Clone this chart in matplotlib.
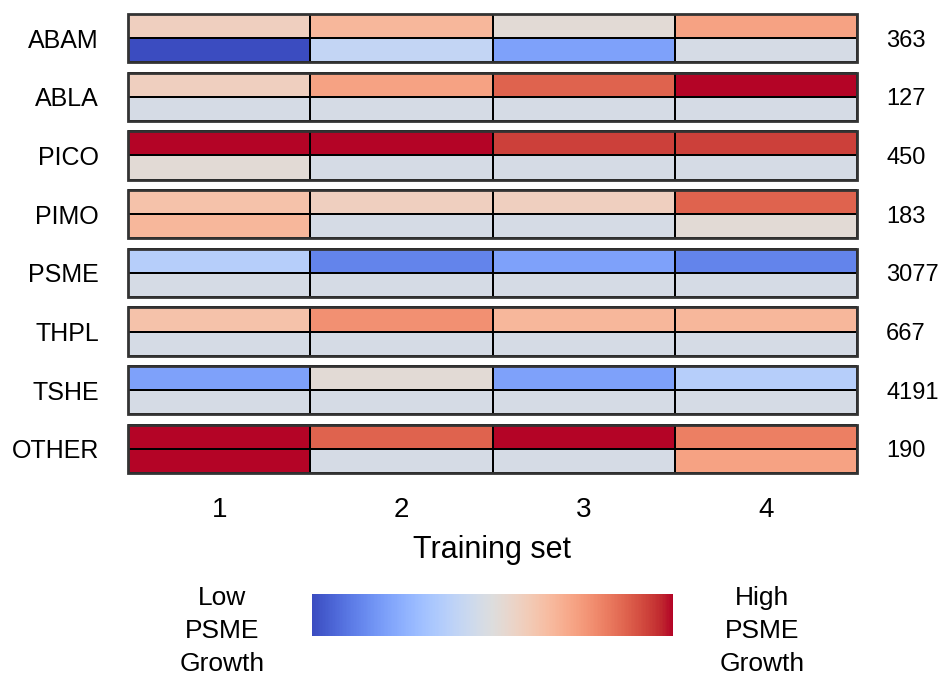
import numpy as np
import matplotlib
matplotlib.use("Agg")
import matplotlib.pyplot as plt
from matplotlib.patches import Rectangle
import matplotlib.colors as mcolors

plt.rcParams['font.family'] = ['Liberation Sans', 'DejaVu Sans']

species = ["ABAM", "ABLA", "PICO", "PIMO", "PSME", "THPL", "TSHE", "OTHER"]
counts = ["363", "127", "450", "183", "3077", "667", "4191", "190"]
training_sets = ["1", "2", "3", "4"]

# top sub-row values (0 = low PSME growth, 1 = high PSME growth)
top_vals = [
    [0.58, 0.67, 0.52, 0.73],
    [0.58, 0.73, 0.87, 1.00],
    [1.00, 1.00, 0.93, 0.93],
    [0.63, 0.58, 0.58, 0.87],
    [0.37, 0.13, 0.21, 0.13],
    [0.63, 0.77, 0.67, 0.67],
    [0.21, 0.52, 0.21, 0.37],
    [1.00, 0.87, 1.00, 0.81],
]
# bottom sub-row values
bottom_vals = [
    [0.00, 0.41, 0.21, 0.47],
    [0.47, 0.47, 0.47, 0.47],
    [0.52, 0.47, 0.47, 0.47],
    [0.67, 0.47, 0.47, 0.52],
    [0.47, 0.47, 0.47, 0.47],
    [0.47, 0.47, 0.47, 0.47],
    [0.47, 0.47, 0.47, 0.47],
    [1.00, 0.47, 0.47, 0.73],
]

W, H = 945, 677
fig = plt.figure(figsize=(W / 100, H / 100), dpi=100)

block_h = 0.82
n = len(species)
left, right, top, bottom = 128, 857, 14, 473
ax = fig.add_axes([left / W, 1 - bottom / H, (right - left) / W, (bottom - top) / H])
cmap = plt.get_cmap('coolwarm')
norm = mcolors.Normalize(0, 1)

xe = np.arange(len(training_sets) + 1)
for i in range(n):
    ye = np.array([i, i + block_h / 2, i + block_h])
    Z = np.array([top_vals[i], bottom_vals[i]])
    ax.pcolormesh(xe, ye, Z, cmap=cmap, norm=norm, edgecolors='black', linewidth=1.3)
    ax.add_patch(Rectangle((0, i), len(training_sets), block_h, fill=False,
                           edgecolor='#333333', linewidth=2.0, zorder=3, clip_on=False))

ax.set_xlim(0, len(training_sets))
ax.set_ylim(n - 1 + block_h, 0)
for s in ax.spines.values():
    s.set_visible(False)
ax.set_xticks(np.arange(len(training_sets)) + 0.5)
ax.set_xticklabels(training_sets, fontsize=20)
ax.set_yticks(np.arange(n) + block_h / 2)
ax.set_yticklabels(species, fontsize=18)
ax.tick_params(axis='both', length=0)
ax.tick_params(axis='x', pad=17)
ax.tick_params(axis='y', pad=21)

ax2 = ax.twinx()
ax2.set_ylim(ax.get_ylim())
ax2.set_yticks(np.arange(n) + block_h / 2)
ax2.set_yticklabels(counts, fontsize=17)
ax2.tick_params(axis='y', length=0, pad=21)
for s in ax2.spines.values():
    s.set_visible(False)

fig.text((left + right) / 2 / W, 1 - 550 / H, "Training set", ha='center', va='center', fontsize=22)

cax = fig.add_axes([312 / W, 1 - 636 / H, 361 / W, 42 / H])
cb = matplotlib.colorbar.ColorbarBase(cax, cmap=cmap, norm=norm, orientation='horizontal')
cb.set_ticks([])
cb.outline.set_visible(False)

fig.text(222 / W, 1 - 631 / H, "Low\nPSME\nGrowth", ha='center', va='center', fontsize=19, linespacing=1.45)
fig.text(762 / W, 1 - 631 / H, "High\nPSME\nGrowth", ha='center', va='center', fontsize=19, linespacing=1.45)

fig.savefig("out.png", dpi=100)
